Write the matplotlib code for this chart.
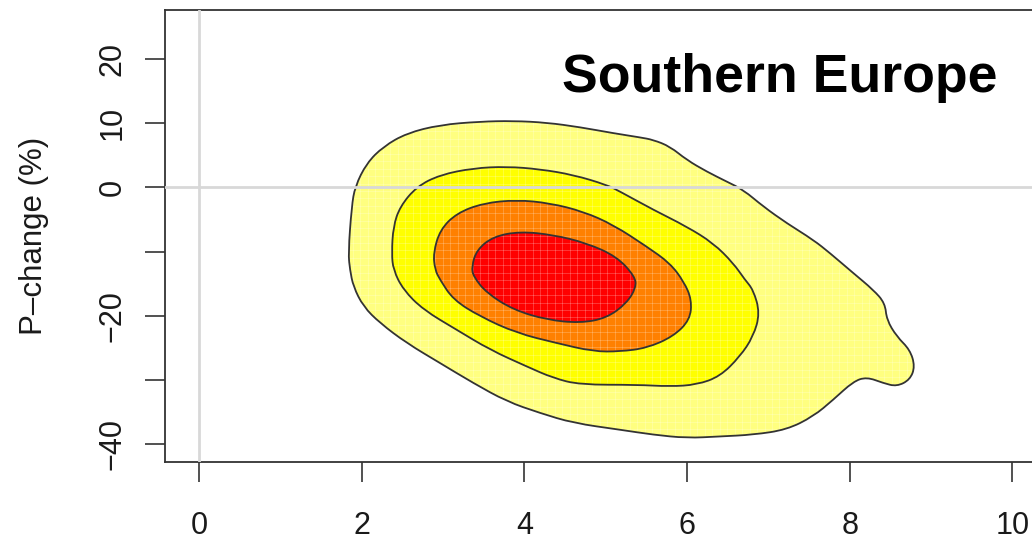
import numpy as np
import matplotlib
matplotlib.use("Agg")
import matplotlib.pyplot as plt
from matplotlib.path import Path
from matplotlib.patches import PathPatch

# Joint density contours of temperature change (x) and precipitation change (y, %)
# Each level is a closed outline, listed clockwise from its leftmost point.
level1_x = [1.835, 1.877, 1.918, 2.061, 2.266, 2.553, 2.963, 3.454, 3.864, 4.274,
            4.683, 5.093, 5.421, 5.585, 5.790, 5.995, 6.241, 6.487, 6.691, 6.937,
            7.224, 7.551, 7.757, 8.043, 8.289, 8.433, 8.454, 8.577, 8.740, 8.802,
            8.740, 8.577, 8.412, 8.208, 8.043, 7.797, 7.551, 7.224, 6.814, 6.404,
            5.995, 5.585, 5.175, 4.601, 4.192, 3.782, 3.372, 2.963, 2.553, 2.225,
            2.020, 1.897, 1.856]
level1_y = [-10.25, -2.99, 0.12, 3.77, 6.36, 8.44, 9.74, 10.25, 10.36, 10.09,
            9.38, 8.44, 7.79, 7.40, 6.36, 4.28, 2.46, 0.90, -0.39, -2.99,
            -5.58, -8.18, -10.25, -13.36, -15.97, -18.04, -20.64, -23.24, -25.31, -27.91,
            -29.98, -31.03, -30.50, -29.56, -30.25, -33.10, -35.70, -37.77, -38.55, -38.82,
            -39.07, -38.55, -37.77, -36.73, -35.17, -33.36, -30.50, -27.38, -24.27, -21.15,
            -18.57, -15.45, -12.85]

level2_x = [2.369, 2.388, 2.471, 2.676, 2.963, 3.372, 3.782, 4.192, 4.601, 5.012,
            5.175, 5.585, 5.995, 6.322, 6.568, 6.712, 6.814, 6.896, 6.814, 6.650,
            6.404, 6.118, 5.790, 5.380, 4.683, 4.355, 4.028, 3.577, 3.168, 2.757,
            2.511, 2.388]
level2_y = [-10.25, -6.11, -2.99, 0.12, 1.95, 2.99, 3.24, 2.83, 1.95, 0.39,
            -0.65, -3.50, -6.11, -8.69, -11.81, -14.41, -15.97, -19.60, -23.24, -26.36,
            -29.47, -30.76, -31.03, -30.76, -30.76, -29.72, -27.91, -25.31, -22.20, -19.08,
            -15.97, -12.85]

level3_x = [2.880, 2.963, 3.168, 3.495, 3.905, 4.315, 4.724, 5.093, 5.503, 5.790,
            5.962, 6.057, 6.036, 5.830, 5.503, 5.175, 4.847, 4.397, 3.905, 3.454,
            3.126, 2.963, 2.901]
level3_y = [-10.25, -6.62, -4.02, -2.46, -1.95, -2.46, -3.77, -5.84, -9.22, -11.81,
            -14.72, -17.52, -20.64, -23.24, -25.05, -25.58, -25.58, -24.27, -22.71, -20.12,
            -17.52, -14.41, -12.85]

level4_x = [3.352, 3.414, 3.618, 3.946, 4.355, 4.766, 5.135, 5.360, 5.372, 5.258,
            5.012, 4.683, 4.274, 3.864, 3.537, 3.372]
level4_y = [-12.34, -9.74, -7.66, -6.88, -7.40, -8.69, -10.78, -13.89, -15.65, -18.04,
            -20.37, -21.15, -20.64, -19.08, -16.48, -13.89]

level_colors = ["#FFFF80", "#FFFF00", "#FF8000", "#FF0000"]

x_ticks = [0, 2, 4, 6, 8, 10]
x_tick_labels = ["0", "2", "4", "6", "8", "10"]
y_ticks = [-40, -30, -20, -10, 0, 10, 20]
y_tick_labels = ["\u221240", "", "\u221220", "", "0", "10", "20"]

title = "Southern Europe"
y_label = "P\u2013change (%)"


def smooth_closed_path(xs, ys):
    """Closed quadratic B-spline path through the midpoints of the outline."""
    pts = np.column_stack([xs, ys])
    mids = (pts + np.roll(pts, -1, axis=0)) / 2.0
    verts = [mids[-1]]
    codes = [Path.MOVETO]
    for p, m in zip(pts, mids):
        verts += [p, m]
        codes += [Path.CURVE3, Path.CURVE3]
    return Path(verts, codes)


plt.rcParams["font.family"] = ["Liberation Sans", "DejaVu Sans"]

W, H = 1032, 537
fig = plt.figure(figsize=(W / 100, H / 100), dpi=100)
ax = fig.add_axes([165 / W, 1 - 462 / H, 880 / W, 452.4 / H])
ax.set_xlim(-0.418, 10.4)
ax.set_ylim(-42.8, 27.7)

frame_color = "#333333"
patches = []
for lx, ly, col in zip([level1_x, level2_x, level3_x, level4_x],
                       [level1_y, level2_y, level3_y, level4_y],
                       level_colors):
    path = smooth_closed_path(lx, ly)
    patch = PathPatch(path, facecolor=col, edgecolor="none", zorder=2)
    ax.add_patch(patch)
    patches.append((path, patch))

# faint raster seams of the filled image, visible only inside the coloured area
outer_patch = patches[0][1]
for gx in np.arange(1.8, 9.0, 0.092):
    ln = ax.axvline(gx, color="white", lw=0.7, alpha=0.22, zorder=2.5)
    ln.set_clip_path(outer_patch)
for gy in np.arange(-40.0, 11.0, 1.16):
    ln = ax.axhline(gy, color="white", lw=0.7, alpha=0.22, zorder=2.5)
    ln.set_clip_path(outer_patch)

# contour outlines on top of the fills
for path, _ in patches:
    ax.add_patch(PathPatch(path, facecolor="none", edgecolor=frame_color,
                           lw=1.3, zorder=3))

# reference lines at zero change
ax.axhline(0, color="#D8D8D8", lw=2.0, zorder=4)
ax.axvline(0, color="#D8D8D8", lw=2.0, zorder=4)

for side in ["left", "top", "bottom"]:
    ax.spines[side].set_color(frame_color)
    ax.spines[side].set_linewidth(1.3)
ax.spines["right"].set_visible(False)

ax.set_xticks(x_ticks)
ax.set_xticklabels(x_tick_labels)
ax.set_yticks(y_ticks)
ax.set_yticklabels(y_tick_labels, rotation=90, va="center", ha="center")
ax.tick_params(axis="both", direction="out", length=14.5, width=1.2,
               color=frame_color, labelsize=22, labelcolor="#1a1a1a")
ax.tick_params(axis="x", pad=21)
ax.tick_params(axis="y", pad=23.3)

fig.text(34 / W, 1 - 236 / H, y_label, rotation=90, ha="center", va="center",
         fontsize=22.5, color="#1a1a1a")
fig.text(780 / W, 1 - 92 / H, title, ha="center", va="baseline",
         fontsize=38.6, fontweight="bold", color="black")

fig.savefig("out.png", dpi=100)
